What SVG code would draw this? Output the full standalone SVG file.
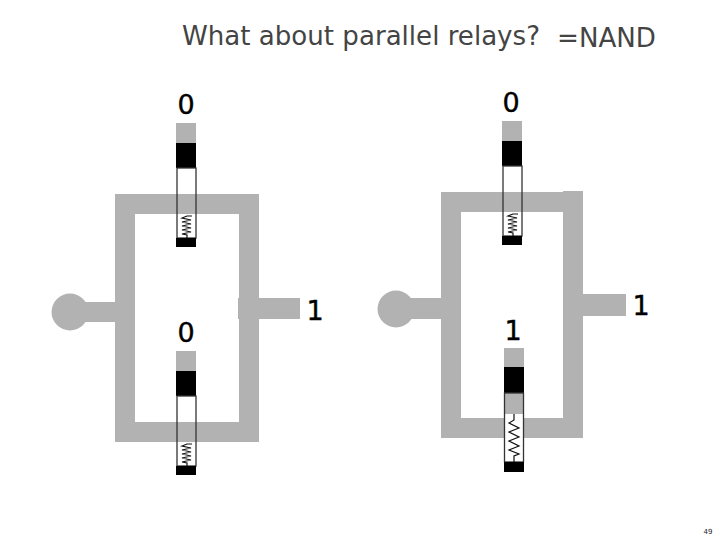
<svg xmlns="http://www.w3.org/2000/svg" width="720" height="540" viewBox="0 0 720 540">
<style>
.w{fill:#b2b2b2}
.k{fill:#000}
.o{fill:#fff;stroke:none}
.e{fill:none;stroke:#333;stroke-width:1.3}
.s{fill:none;stroke:#111;stroke-width:1.2}
.d{font-family:"DejaVu Sans",sans-serif;font-size:27px;fill:#000;stroke:#000;stroke-width:.4;text-anchor:middle}
.t{font-family:"DejaVu Sans",sans-serif;font-size:26px;fill:#444}
</style>
<rect width="720" height="540" fill="#fff"/>
<g id="title"><text class="t" x="182" y="45" textLength="358" lengthAdjust="spacingAndGlyphs">What about parallel relays?</text><text class="t" x="557" y="47" textLength="99" lengthAdjust="spacingAndGlyphs">=NAND</text></g>

<g id="connectors">
<path class="w" d="M115 194H259V442H115V322H70V302H115ZM135 214V422H239V214Z" fill-rule="evenodd"/>
<rect class="w" x="238" y="298" width="62" height="21"/>
<circle class="w" cx="70" cy="312" r="18.500"/>
<path class="w" d="M441 192H563V191H583V294H626V316H583V438H441V319H396V298H441ZM461 212V418H563V212Z" fill-rule="evenodd"/>
<circle class="w" cx="396" cy="309" r="18.500"/>
</g>

<g id="relay-a-top">
<rect class="o" x="177" y="168" width="19" height="26"/>
<rect class="w" x="176" y="123" width="20" height="20"/><rect class="k" x="176" y="143" width="20" height="25"/>
<rect class="o" x="177" y="214" width="19" height="24"/><rect class="e" x="177" y="168" width="19" height="70"/>
<path class="s" d="M192 216H187L182 218L191 220L182 222L191 224L182 226L191 228L182 230L191 232L182 234L187 235V238"/>
<rect class="k" x="176" y="238" width="20" height="9"/>
<text class="d" x="186" y="114">0</text>
</g>

<g id="relay-a-bottom">
<rect class="o" x="177" y="396" width="19" height="26"/>
<rect class="w" x="176" y="351" width="20" height="20"/><rect class="k" x="176" y="371" width="20" height="25"/>
<rect class="o" x="177" y="442" width="19" height="24"/><rect class="e" x="177" y="396" width="19" height="70"/>
<path class="s" d="M192 444H187L182 446L191 448L182 450L191 452L182 454L191 456L182 458L191 460L182 462L187 463V466"/>
<rect class="k" x="176" y="466" width="20" height="9"/>
<text class="d" x="186" y="342">0</text>
</g>

<g id="relay-b-top">
<rect class="o" x="503" y="166" width="19" height="26"/>
<rect class="w" x="502" y="121" width="20" height="20"/><rect class="k" x="502" y="141" width="20" height="25"/>
<rect class="o" x="503" y="212" width="19" height="24"/><rect class="e" x="503" y="166" width="19" height="70"/>
<path class="s" d="M518 214H513L508 216L517 218L508 220L517 222L508 224L517 226L508 228L517 230L508 232L513 233V236"/>
<rect class="k" x="502" y="236" width="20" height="9"/>
<text class="d" x="511" y="112">0</text>
</g>

<g id="relay-b-bottom">
<rect class="w" x="504" y="348" width="20" height="19"/><rect class="k" x="504" y="367" width="20" height="26"/>
<rect class="w" x="504" y="393" width="20" height="21"/>
<rect class="o" x="504" y="414" width="20" height="48"/>
<rect class="e" x="504.500" y="393" width="19" height="69"/>
<path class="s" d="M514 414V420L509 423L519 428L509 432L519 437L509 441L519 446L509 450L519 454L514 456V462"/>
<rect class="k" x="504" y="462" width="20" height="10"/>
<text class="d" x="513" y="340">1</text>
</g>

<g id="labels">
<text class="d" x="315" y="320">1</text>
<text class="d" x="641" y="315">1</text>
<text x="708" y="534" font-family="DejaVu Sans, sans-serif" font-size="7" fill="#222" text-anchor="middle">49</text>
</g>
</svg>
